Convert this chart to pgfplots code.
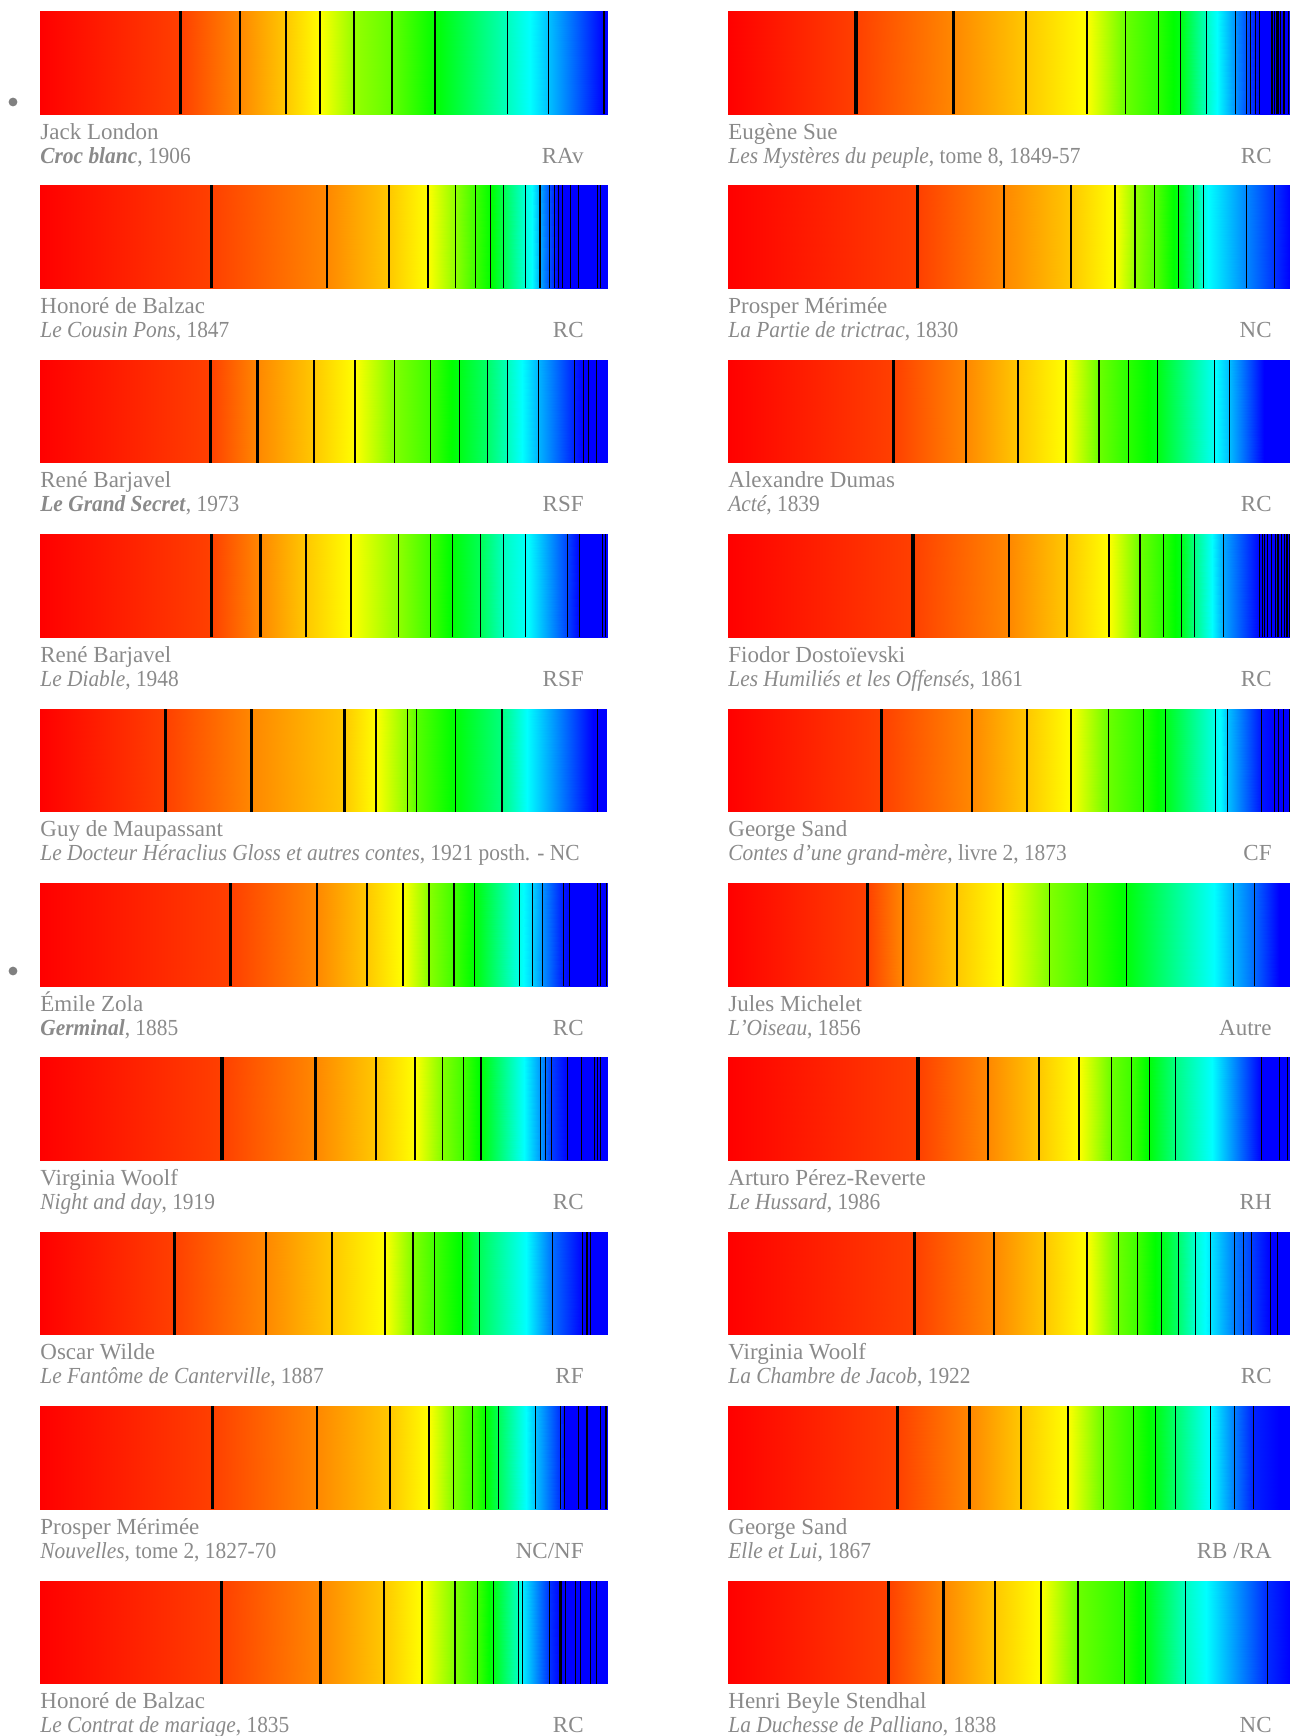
\documentclass[border=0pt]{standalone}
\usepackage{fontspec}
\setmainfont{Liberation Serif}
\newfontfamily\tfont[FakeStretch=0.93]{Liberation Serif}
\usepackage{pgfplots}
\pgfplotsset{compat=1.18}
\definecolor{txtgray}{RGB}{138,138,138}
\definecolor{dotgray}{RGB}{128,128,128}
\pgfplotsset{
  colormap={spec}{rgb255=(255,0,0) rgb255=(255,255,0) rgb255=(0,255,0) rgb255=(0,255,255) rgb255=(0,0,255)},
  barax/.style={scale only axis, height=51.5pt, hide axis, ymin=0, ymax=1,
    point meta min=0, point meta max=240, colormap name=spec, anchor=north west,
    clip=true, enlargelimits=false},
  lcol/.style={barax, width=284pt, xmin=101, xmax=1537},
  rcol/.style={barax, width=281pt, xmin=74, xmax=1568},
  spec/.style={surf, shader=interp, mesh/rows=2, point meta=explicit},
  thk/.style={ycomb, black, line width=1.6pt, no markers},
  med/.style={ycomb, black, line width=1.0pt, no markers},
  thn/.style={ycomb, black, line width=0.55pt, no markers},
}
\newcommand\entry[6]{%
  \node[anchor=base west] at (#1, {-(69.5+87.2*#2)*1pt}) {#3};
  \node[anchor=base west] at (#1, {-(81.5+87.2*#2)*1pt}) {\tfont #4};
  \node[anchor=base east] at (#5, {-(81.5+87.2*#2)*1pt}) {#6};
}
\begin{document}
\begin{tikzpicture}
\path[use as bounding box] (0,0) rectangle (645pt,-868pt);
% ---------------- left column ----------------
\begin{axis}[lcol, at={(20pt,-5.5pt)}]
\addplot[spec] coordinates {(101,0)[0] (457,0)[15] (606,0)[32] (723,0)[47] (809,0)[60] (895,0)[85] (991,0)[97] (1100,0)[120] (1283,0)[165] (1340,0)[180] (1387,0)[195] (1527,0)[240] (1537,0)[240]
(101,1)[0] (457,1)[15] (606,1)[32] (723,1)[47] (809,1)[60] (895,1)[85] (991,1)[97] (1100,1)[120] (1283,1)[165] (1340,1)[180] (1387,1)[195] (1527,1)[240] (1537,1)[240]};
\addplot[thk] coordinates {(457,1)};
\addplot[med] coordinates {(606,1) (723,1) (809,1) (895,1) (991,1) (1100,1)};
\addplot[thn] coordinates {(1283,1) (1387,1) (1527,1)};
\end{axis}
\begin{axis}[lcol, at={(20pt,-92.7pt)}]
\addplot[spec] coordinates {(101,0)[0] (534,0)[15] (827,0)[32] (984,0)[47] (1082,0)[60] (1152,0)[87] (1202,0)[105] (1240,0)[120] (1273,0)[140] (1329,0)[172] (1345,0)[180] (1365,0)[200] (1389,0)[220] (1410,0)[240] (1537,0)[240]
(101,1)[0] (534,1)[15] (827,1)[32] (984,1)[47] (1082,1)[60] (1152,1)[87] (1202,1)[105] (1240,1)[120] (1273,1)[140] (1329,1)[172] (1345,1)[180] (1365,1)[200] (1389,1)[220] (1410,1)[240] (1537,1)[240]};
\addplot[thk] coordinates {(534,1)};
\addplot[med] coordinates {(827,1) (984,1) (1082,1)};
\addplot[thn] coordinates {(1152,1) (1202,1) (1240,1) (1273,1) (1329,1) (1365,1) (1389,1) (1402,1) (1412,1) (1423,1) (1443,1) (1462,1) (1510,1) (1518,1)};
\end{axis}
\begin{axis}[lcol, at={(20pt,-179.9pt)}]
\addplot[spec] coordinates {(101,0)[0] (532,0)[15] (651,0)[32] (794,0)[47] (897,0)[60] (997,0)[90] (1088,0)[105] (1161,0)[125] (1233,0)[145] (1284,0)[165] (1320,0)[180] (1361,0)[197] (1452,0)[232] (1475,0)[240] (1537,0)[240]
(101,1)[0] (532,1)[15] (651,1)[32] (794,1)[47] (897,1)[60] (997,1)[90] (1088,1)[105] (1161,1)[125] (1233,1)[145] (1284,1)[165] (1320,1)[180] (1361,1)[197] (1452,1)[232] (1475,1)[240] (1537,1)[240]};
\addplot[thk] coordinates {(532,1) (651,1)};
\addplot[med] coordinates {(794,1) (897,1)};
\addplot[thn] coordinates {(997,1) (1088,1) (1161,1) (1233,1) (1284,1) (1361,1) (1452,1) (1475,1) (1488,1) (1508,1)};
\end{axis}
\begin{axis}[lcol, at={(20pt,-267.1pt)}]
\addplot[spec] coordinates {(101,0)[0] (534,0)[15] (658,0)[32] (773,0)[47] (887,0)[60] (1008,0)[87] (1088,0)[105] (1144,0)[122] (1214,0)[140] (1272,0)[165] (1335,0)[180] (1435,0)[225] (1465,0)[240] (1537,0)[240]
(101,1)[0] (534,1)[15] (658,1)[32] (773,1)[47] (887,1)[60] (1008,1)[87] (1088,1)[105] (1144,1)[122] (1214,1)[140] (1272,1)[165] (1335,1)[180] (1435,1)[225] (1465,1)[240] (1537,1)[240]};
\addplot[thk] coordinates {(534,1) (658,1)};
\addplot[med] coordinates {(773,1) (887,1)};
\addplot[thn] coordinates {(1008,1) (1088,1) (1144,1) (1214,1) (1272,1) (1329,1) (1435,1) (1465,1) (1523,1) (1530,1)};
\end{axis}
\begin{axis}[lcol, at={(20pt,-354.3pt)}]
\addplot[spec] coordinates {(101,0)[0] (418,0)[15] (636,0)[32] (870,0)[47] (950,0)[60] (1031,0)[88] (1053,0)[100] (1152,0)[122] (1269,0)[150] (1333,0)[180] (1500,0)[240] (1532,0)[240]
(101,1)[0] (418,1)[15] (636,1)[32] (870,1)[47] (950,1)[60] (1031,1)[88] (1053,1)[100] (1152,1)[122] (1269,1)[150] (1333,1)[180] (1500,1)[240] (1532,1)[240]};
\addplot[thk] coordinates {(418,1) (636,1) (870,1)};
\addplot[med] coordinates {(950,1)};
\addplot[thn] coordinates {(1031,1) (1053,1) (1152,1) (1269,1) (1511,1)};
\end{axis}
\begin{axis}[lcol, at={(20pt,-441.5pt)}]
\addplot[spec] coordinates {(101,0)[0] (583,0)[15] (801,0)[32] (928,0)[47] (1019,0)[60] (1084,0)[88] (1148,0)[105] (1200,0)[122] (1313,0)[175] (1346,0)[190] (1371,0)[205] (1425,0)[235] (1440,0)[240] (1537,0)[240]
(101,1)[0] (583,1)[15] (801,1)[32] (928,1)[47] (1019,1)[60] (1084,1)[88] (1148,1)[105] (1200,1)[122] (1313,1)[175] (1346,1)[190] (1371,1)[205] (1425,1)[235] (1440,1)[240] (1537,1)[240]};
\addplot[thk] coordinates {(583,1)};
\addplot[med] coordinates {(801,1) (928,1) (1019,1) (1084,1) (1148,1)};
\addplot[thn] coordinates {(1200,1) (1313,1) (1346,1) (1371,1) (1425,1) (1440,1) (1510,1) (1519,1) (1533,1)};
\end{axis}
\begin{axis}[lcol, at={(20pt,-528.7pt)}]
\addplot[spec] coordinates {(101,0)[0] (561,0)[15] (798,0)[32] (950,0)[47] (1049,0)[60] (1119,0)[90] (1172,0)[105] (1216,0)[122] (1325,0)[180] (1367,0)[205] (1394,0)[225] (1435,0)[240] (1537,0)[240]
(101,1)[0] (561,1)[15] (798,1)[32] (950,1)[47] (1049,1)[60] (1119,1)[90] (1172,1)[105] (1216,1)[122] (1325,1)[180] (1367,1)[205] (1394,1)[225] (1435,1)[240] (1537,1)[240]};
\addplot[thk] coordinates {(561,1) (798,1)};
\addplot[med] coordinates {(950,1) (1049,1) (1216,1)};
\addplot[thn] coordinates {(1119,1) (1172,1) (1367,1) (1380,1) (1394,1) (1435,1) (1470,1) (1503,1) (1511,1) (1519,1)};
\end{axis}
\begin{axis}[lcol, at={(20pt,-615.9pt)}]
\addplot[spec] coordinates {(101,0)[0] (442,0)[15] (672,0)[32] (839,0)[47] (973,0)[60] (1044,0)[90] (1099,0)[105] (1169,0)[122] (1212,0)[140] (1330,0)[180] (1397,0)[215] (1473,0)[240] (1537,0)[240]
(101,1)[0] (442,1)[15] (672,1)[32] (839,1)[47] (973,1)[60] (1044,1)[90] (1099,1)[105] (1169,1)[122] (1212,1)[140] (1330,1)[180] (1397,1)[215] (1473,1)[240] (1537,1)[240]};
\addplot[thk] coordinates {(442,1)};
\addplot[med] coordinates {(672,1) (839,1) (973,1) (1044,1)};
\addplot[thn] coordinates {(1099,1) (1169,1) (1212,1) (1397,1) (1473,1) (1484,1) (1492,1)};
\end{axis}
\begin{axis}[lcol, at={(20pt,-703.1pt)}]
\addplot[spec] coordinates {(101,0)[0] (538,0)[15] (801,0)[32] (987,0)[47] (1084,0)[60] (1147,0)[90] (1195,0)[105] (1228,0)[120] (1260,0)[140] (1330,0)[180] (1354,0)[195] (1417,0)[230] (1426,0)[240] (1537,0)[240]
(101,1)[0] (538,1)[15] (801,1)[32] (987,1)[47] (1084,1)[60] (1147,1)[90] (1195,1)[105] (1228,1)[120] (1260,1)[140] (1330,1)[180] (1354,1)[195] (1417,1)[230] (1426,1)[240] (1537,1)[240]};
\addplot[thk] coordinates {(538,1)};
\addplot[med] coordinates {(801,1) (987,1) (1084,1)};
\addplot[thn] coordinates {(1147,1) (1195,1) (1228,1) (1260,1) (1354,1) (1417,1) (1426,1) (1463,1) (1482,1) (1486,1) (1519,1) (1532,1)};
\end{axis}
\begin{axis}[lcol, at={(20pt,-790.3pt)}]
\addplot[spec] coordinates {(101,0)[0] (559,0)[15] (810,0)[32] (971,0)[47] (1067,0)[60] (1150,0)[90] (1207,0)[105] (1247,0)[125] (1310,0)[165] (1321,0)[185] (1389,0)[228] (1417,0)[240] (1537,0)[240]
(101,1)[0] (559,1)[15] (810,1)[32] (971,1)[47] (1067,1)[60] (1150,1)[90] (1207,1)[105] (1247,1)[125] (1310,1)[165] (1321,1)[185] (1389,1)[228] (1417,1)[240] (1537,1)[240]};
\addplot[thk] coordinates {(559,1) (810,1) (1417,1)};
\addplot[med] coordinates {(971,1) (1067,1) (1150,1)};
\addplot[thn] coordinates {(1207,1) (1247,1) (1310,1) (1321,1) (1389,1) (1430,1) (1455,1) (1468,1) (1493,1) (1508,1)};
\end{axis}
% ---------------- right column ----------------
\begin{axis}[rcol, at={(364pt,-5.5pt)}]
\addplot[spec] coordinates {(74,0)[0] (414,0)[15] (674,0)[32] (866,0)[47] (1028,0)[60] (1130,0)[95] (1218,0)[110] (1277,0)[125] (1346,0)[165] (1375,0)[180] (1423,0)[205] (1452,0)[220] (1487,0)[240] (1568,0)[240]
(74,1)[0] (414,1)[15] (674,1)[32] (866,1)[47] (1028,1)[60] (1130,1)[95] (1218,1)[110] (1277,1)[125] (1346,1)[165] (1375,1)[180] (1423,1)[205] (1452,1)[220] (1487,1)[240] (1568,1)[240]};
\addplot[thk] coordinates {(414,1) (674,1)};
\addplot[med] coordinates {(866,1) (1028,1)};
\addplot[thn] coordinates {(1130,1) (1218,1) (1277,1) (1346,1) (1423,1) (1452,1) (1464,1) (1476,1) (1487,1) (1520,1) (1526,1) (1531,1) (1536,1) (1542,1) (1552,1) (1565,1)};
\end{axis}
\begin{axis}[rcol, at={(364pt,-92.7pt)}]
\addplot[spec] coordinates {(74,0)[0] (578,0)[15] (808,0)[32] (986,0)[47] (1103,0)[60] (1156,0)[85] (1208,0)[100] (1271,0)[125] (1311,0)[145] (1338,0)[172] (1350,0)[180] (1452,0)[208] (1526,0)[228] (1568,0)[240]
(74,1)[0] (578,1)[15] (808,1)[32] (986,1)[47] (1103,1)[60] (1156,1)[85] (1208,1)[100] (1271,1)[125] (1311,1)[145] (1338,1)[172] (1350,1)[180] (1452,1)[208] (1526,1)[228] (1568,1)[240]};
\addplot[thk] coordinates {(578,1)};
\addplot[med] coordinates {(808,1) (986,1) (1103,1) (1156,1)};
\addplot[thn] coordinates {(1208,1) (1271,1) (1311,1) (1338,1) (1452,1) (1526,1)};
\end{axis}
\begin{axis}[rcol, at={(364pt,-179.9pt)}]
\addplot[spec] coordinates {(74,0)[0] (515,0)[15] (706,0)[32] (845,0)[47] (972,0)[60] (1060,0)[95] (1138,0)[110] (1216,0)[125] (1367,0)[178] (1407,0)[195] (1500,0)[240] (1568,0)[240]
(74,1)[0] (515,1)[15] (706,1)[32] (845,1)[47] (972,1)[60] (1060,1)[95] (1138,1)[110] (1216,1)[125] (1367,1)[178] (1407,1)[195] (1500,1)[240] (1568,1)[240]};
\addplot[thk] coordinates {(515,1)};
\addplot[med] coordinates {(706,1) (845,1) (972,1) (1060,1)};
\addplot[thn] coordinates {(1138,1) (1216,1) (1367,1) (1407,1)};
\end{axis}
\begin{axis}[rcol, at={(364pt,-267.1pt)}]
\addplot[spec] coordinates {(74,0)[0] (566,0)[15] (821,0)[32] (975,0)[47] (1087,0)[60] (1169,0)[95] (1231,0)[110] (1279,0)[125] (1314,0)[150] (1360,0)[180] (1391,0)[200] (1487,0)[240] (1568,0)[240]
(74,1)[0] (566,1)[15] (821,1)[32] (975,1)[47] (1087,1)[60] (1169,1)[95] (1231,1)[110] (1279,1)[125] (1314,1)[150] (1360,1)[180] (1391,1)[200] (1487,1)[240] (1568,1)[240]};
\addplot[thk] coordinates {(566,1)};
\addplot[med] coordinates {(821,1) (975,1) (1087,1) (1169,1)};
\addplot[thn] coordinates {(1231,1) (1279,1) (1314,1) (1391,1) (1487,1) (1494,1) (1500,1) (1508,1) (1518,1) (1530,1) (1536,1) (1546,1) (1553,1) (1560,1) (1566,1)};
\end{axis}
\begin{axis}[rcol, at={(364pt,-354.3pt)}]
\addplot[spec] coordinates {(74,0)[0] (481,0)[15] (722,0)[32] (869,0)[47] (986,0)[60] (1085,0)[95] (1178,0)[110] (1237,0)[125] (1369,0)[175] (1385,0)[182] (1402,0)[195] (1492,0)[235] (1527,0)[240] (1568,0)[240]
(74,1)[0] (481,1)[15] (722,1)[32] (869,1)[47] (986,1)[60] (1085,1)[95] (1178,1)[110] (1237,1)[125] (1369,1)[175] (1385,1)[182] (1402,1)[195] (1492,1)[235] (1527,1)[240] (1568,1)[240]};
\addplot[thk] coordinates {(481,1)};
\addplot[med] coordinates {(722,1) (869,1) (986,1)};
\addplot[thn] coordinates {(1085,1) (1178,1) (1237,1) (1369,1) (1402,1) (1492,1) (1527,1) (1538,1) (1551,1) (1566,1)};
\end{axis}
\begin{axis}[rcol, at={(364pt,-441.5pt)}]
\addplot[spec] coordinates {(74,0)[0] (444,0)[15] (538,0)[32] (683,0)[47] (805,0)[60] (929,0)[90] (1030,0)[105] (1133,0)[122] (1365,0)[180] (1418,0)[198] (1473,0)[215] (1540,0)[240] (1568,0)[240]
(74,1)[0] (444,1)[15] (538,1)[32] (683,1)[47] (805,1)[60] (929,1)[90] (1030,1)[105] (1133,1)[122] (1365,1)[180] (1418,1)[198] (1473,1)[215] (1540,1)[240] (1568,1)[240]};
\addplot[thk] coordinates {(444,1)};
\addplot[med] coordinates {(538,1) (683,1) (805,1)};
\addplot[thn] coordinates {(929,1) (1030,1) (1133,1) (1418,1) (1473,1)};
\end{axis}
\begin{axis}[rcol, at={(364pt,-528.7pt)}]
\addplot[spec] coordinates {(74,0)[0] (579,0)[15] (764,0)[32] (901,0)[47] (1007,0)[60] (1093,0)[95] (1146,0)[105] (1194,0)[122] (1263,0)[150] (1360,0)[180] (1492,0)[240] (1568,0)[240]
(74,1)[0] (579,1)[15] (764,1)[32] (901,1)[47] (1007,1)[60] (1093,1)[95] (1146,1)[105] (1194,1)[122] (1263,1)[150] (1360,1)[180] (1492,1)[240] (1568,1)[240]};
\addplot[thk] coordinates {(579,1)};
\addplot[med] coordinates {(764,1) (901,1) (1007,1)};
\addplot[thn] coordinates {(1093,1) (1146,1) (1194,1) (1263,1) (1492,1) (1540,1) (1562,1)};
\end{axis}
\begin{axis}[rcol, at={(364pt,-615.9pt)}]
\addplot[spec] coordinates {(74,0)[0] (570,0)[15] (781,0)[32] (916,0)[47] (1028,0)[60] (1112,0)[95] (1162,0)[105] (1226,0)[125] (1271,0)[145] (1317,0)[170] (1356,0)[185] (1420,0)[210] (1465,0)[225] (1516,0)[240] (1568,0)[240]
(74,1)[0] (570,1)[15] (781,1)[32] (916,1)[47] (1028,1)[60] (1112,1)[95] (1162,1)[105] (1226,1)[125] (1271,1)[145] (1317,1)[170] (1356,1)[185] (1420,1)[210] (1465,1)[225] (1516,1)[240] (1568,1)[240]};
\addplot[thk] coordinates {(570,1)};
\addplot[med] coordinates {(781,1) (916,1) (1028,1)};
\addplot[thn] coordinates {(1112,1) (1162,1) (1226,1) (1271,1) (1317,1) (1356,1) (1420,1) (1444,1) (1465,1) (1516,1) (1534,1)};
\end{axis}
\begin{axis}[rcol, at={(364pt,-703.1pt)}]
\addplot[spec] coordinates {(74,0)[0] (524,0)[15] (716,0)[32] (853,0)[47] (977,0)[60] (1072,0)[95] (1152,0)[110] (1211,0)[125] (1263,0)[145] (1356,0)[180] (1420,0)[210] (1470,0)[232] (1540,0)[240] (1568,0)[240]
(74,1)[0] (524,1)[15] (716,1)[32] (853,1)[47] (977,1)[60] (1072,1)[95] (1152,1)[110] (1211,1)[125] (1263,1)[145] (1356,1)[180] (1420,1)[210] (1470,1)[232] (1540,1)[240] (1568,1)[240]};
\addplot[thk] coordinates {(524,1) (716,1)};
\addplot[med] coordinates {(853,1) (977,1)};
\addplot[thn] coordinates {(1072,1) (1152,1) (1211,1) (1263,1) (1356,1) (1420,1) (1470,1)};
\end{axis}
\begin{axis}[rcol, at={(364pt,-790.3pt)}]
\addplot[spec] coordinates {(74,0)[0] (500,0)[15] (647,0)[32] (783,0)[47] (906,0)[60] (1004,0)[95] (1127,0)[110] (1184,0)[125] (1290,0)[165] (1345,0)[180] (1508,0)[230] (1568,0)[240]
(74,1)[0] (500,1)[15] (647,1)[32] (783,1)[47] (906,1)[60] (1004,1)[95] (1127,1)[110] (1184,1)[125] (1290,1)[165] (1345,1)[180] (1508,1)[230] (1568,1)[240]};
\addplot[thk] coordinates {(500,1) (647,1)};
\addplot[med] coordinates {(783,1) (906,1) (1004,1)};
\addplot[thn] coordinates {(1127,1) (1184,1) (1290,1) (1508,1)};
\end{axis}
% ---------------- bullets ----------------
\fill[dotgray] (6.5pt,-51pt) circle (2.2pt);
\fill[dotgray] (6.5pt,-485.5pt) circle (2.2pt);
% ---------------- texts ----------------
\begin{scope}[every node/.style={font=\fontsize{11.5}{13}\selectfont, text=txtgray, inner sep=0pt}]
\entry{20pt}{0}{Jack London}{\textbf{\textit{Croc blanc}}, 1906}{292pt}{RAv}
\entry{20pt}{1}{Honoré de Balzac}{\textit{Le Cousin Pons}, 1847}{292pt}{RC}
\entry{20pt}{2}{René Barjavel}{\textbf{\textit{Le Grand Secret}}, 1973}{292pt}{RSF}
\entry{20pt}{3}{René Barjavel}{\textit{Le Diable}, 1948}{292pt}{RSF}
\entry{20pt}{4}{Guy de Maupassant}{\textit{Le Docteur Héraclius Gloss et autres contes}, 1921 posth. - NC}{292pt}{}
\entry{20pt}{5}{Émile Zola}{\textbf{\textit{Germinal}}, 1885}{292pt}{RC}
\entry{20pt}{6}{Virginia Woolf}{\textit{Night and day}, 1919}{292pt}{RC}
\entry{20pt}{7}{Oscar Wilde}{\textit{Le Fantôme de Canterville}, 1887}{292pt}{RF}
\entry{20pt}{8}{Prosper Mérimée}{\textit{Nouvelles}, tome 2, 1827-70}{292pt}{NC/NF}
\entry{20pt}{9}{Honoré de Balzac}{\textit{Le Contrat de mariage}, 1835}{292pt}{RC}
\entry{364pt}{0}{Eugène Sue}{\textit{Les Mystères du peuple}, tome 8, 1849-57}{636pt}{RC}
\entry{364pt}{1}{Prosper Mérimée}{\textit{La Partie de trictrac}, 1830}{636pt}{NC}
\entry{364pt}{2}{Alexandre Dumas}{\textit{Acté}, 1839}{636pt}{RC}
\entry{364pt}{3}{Fiodor Dostoïevski}{\textit{Les Humiliés et les Offensés}, 1861}{636pt}{RC}
\entry{364pt}{4}{George Sand}{\textit{Contes d’une grand-mère}, livre 2, 1873}{636pt}{CF}
\entry{364pt}{5}{Jules Michelet}{\textit{L’Oiseau}, 1856}{636pt}{Autre}
\entry{364pt}{6}{Arturo Pérez-Reverte}{\textit{Le Hussard}, 1986}{636pt}{RH}
\entry{364pt}{7}{Virginia Woolf}{\textit{La Chambre de Jacob}, 1922}{636pt}{RC}
\entry{364pt}{8}{George Sand}{\textit{Elle et Lui}, 1867}{636pt}{RB /RA}
\entry{364pt}{9}{Henri Beyle Stendhal}{\textit{La Duchesse de Palliano}, 1838}{636pt}{NC}
\end{scope}
\end{tikzpicture}
\end{document}
